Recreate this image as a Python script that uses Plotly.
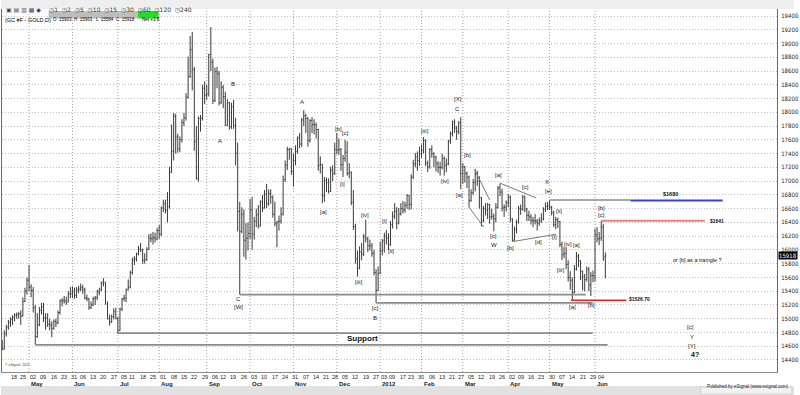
import pandas as pd
import plotly.graph_objects as go

# ---------------- data ----------------
FIRST_DAY, LAST_DAY, ANCHOR_DAY = "2011-04-12", "2012-06-08", "2011-05-02"
HOLIDAYS = ["2011-04-22", "2011-05-30", "2011-07-04", "2011-09-05", "2011-11-24", "2011-12-26",
            "2012-01-02", "2012-01-16", "2012-02-20", "2012-04-06", "2012-05-28"]

OPEN = [
    # Apr 2011
    14600, 14560, 14780, 14880, 14950, 14990, 15020, 15050, 15060, 15070, 15040, 15250, 15400,
    # May
    15560, 15460, 15410, 15160, 14740, 14910, 15120, 15170, 15010, 15010, 14920, 14910, 14860, 14960, 14940, 15090, 15260, 15260, 15260, 15240, 15360,
    # Jun
    15360, 15400, 15340, 15420, 15430, 15450, 15420, 15300, 15290, 15160, 15200, 15290, 15310, 15390, 15420, 15520, 15530, 15210, 15000, 14950, 15030, 15100,
    # Jul
    15000, 14830, 15140, 15290, 15300, 15420, 15460, 15670, 15850, 15870, 15940, 16010, 16000, 15850, 15860, 16010, 16170, 16160, 16180, 16160,
    # Aug
    16280, 16230, 16610, 16670, 16580, 16630, 17130, 17430, 17940, 17640, 17470, 17600, 17850, 17920, 18220, 18520, 18910, 18620, 17570, 17040, 17910, 17910, 18350,
    # Sep
    18250, 18270, 18840, 18730, 18170, 18590, 18560, 18140, 18360, 18230, 17810, 18140, 17790, 18080, 17810, 17410, 16560, 16270, 16520, 16140, 16170,
    # Oct
    16240, 16580, 16230, 16420, 16510, 16350, 16700, 16610, 16810, 16670, 16820, 16770, 16520, 16380, 16410, 16420, 16520, 17020, 17230, 17460, 17470,
    # Nov
    17140, 17300, 17430, 17630, 17540, 17890, 17950, 17910, 17590, 17880, 17820, 17820, 17750, 17230, 17240, 16790, 17010, 16980, 16850, 17160, 17110,
    # Dec
    17460, 17450, 17460, 17240, 17330, 17420, 17110, 17130, 16690, 16340, 15870, 15730, 15970, 15940, 16190, 16160, 16060, 16060, 15950, 15670, 15410,
    # Jan 2012
    15660, 15990, 16130, 16200, 16170, 16080, 16370, 16490, 16560, 16390, 16520, 16600, 16580, 16650, 16790, 16660, 17060, 17250, 17350, 17300,
    # Feb
    17400, 17450, 17590, 17260, 17210, 17460, 17400, 17350, 17250, 17200, 17200, 17330, 17230, 17250, 17580, 17690, 17860, 17770, 17720, 17850,
    # Mar
    17110, 17210, 17110, 17060, 16720, 16830, 16980, 17110, 17000, 16760, 16430, 16600, 16580, 16660, 16480, 16490, 16450, 16620, 16900, 16840, 16610, 16620,
    # Apr
    16690, 16770, 16450, 16140, 16300, 16400, 16600, 16590, 16770, 16590, 16500, 16480, 16430, 16420, 16420, 16390, 16420, 16450, 16590, 16630,
    # May
    16640, 16620, 16540, 16370, 16440, 16410, 16080, 15930, 15950, 15790, 15600, 15560, 15380, 15720, 15910, 15840, 15690, 15610, 15570, 15720, 15490, 15630,
    # Jun
    15620, 16220, 16160, 16170, 16330, 15903,
]
HIGH = [
    14690, 14830, 14910, 14980, 15020, 15050, 15080, 15090, 15100, 15120, 15310, 15450, 15600,
    15780, 15500, 15460, 15200, 15080, 15170, 15230, 15230, 15080, 15080, 15000, 14960, 14990, 15000, 15120, 15280, 15300, 15330, 15320, 15400, 15460,
    15470, 15450, 15460, 15480, 15510, 15490, 15450, 15350, 15300, 15250, 15320, 15330, 15420, 15450, 15540, 15590, 15530, 15250, 15060, 15060, 15150, 15160,
    15030, 15160, 15300, 15350, 15440, 15570, 15700, 15890, 15910, 15960, 16060, 16100, 16020, 15950, 16040, 16230, 16240, 16260, 16250, 16320,
    16360, 16630, 16730, 16730, 16840, 17210, 17820, 17990, 17980, 17690, 17650, 17900, 17990, 18280, 18810, 19110, 19170, 18660, 17800, 17940, 17960, 18400, 18450,
    18400, 18850, 19240, 18780, 18650, 18660, 18600, 18450, 18400, 18300, 18190, 18150, 18140, 18180, 17920, 17560, 16700, 16620, 16590, 16390, 16400,
    16740, 16770, 16480, 16600, 16650, 16720, 16800, 16870, 16960, 16880, 16880, 16790, 16700, 16420, 16500, 16620, 17080, 17300, 17500, 17480, 17480,
    17400, 17520, 17650, 17700, 17920, 18030, 17980, 17930, 17900, 17930, 17900, 17850, 17760, 17360, 17250, 17060, 17050, 17040, 17210, 17230, 17560,
    17700, 17620, 17480, 17380, 17600, 17580, 17260, 17140, 16870, 16380, 15990, 16050, 16100, 16230, 16440, 16190, 16150, 16100, 16000, 15720, 15760,
    16120, 16160, 16250, 16290, 16240, 16420, 16560, 16680, 16620, 16610, 16680, 16710, 16700, 16810, 16800, 17100, 17310, 17410, 17430, 17500,
    17530, 17640, 17610, 17300, 17480, 17520, 17420, 17370, 17290, 17280, 17400, 17360, 17330, 17600, 17720, 17880, 17900, 17800, 17870, 17930,
    17260, 17220, 17140, 17080, 16880, 17030, 17180, 17150, 17070, 16770, 16640, 16680, 16680, 16670, 16600, 16530, 16680, 16930, 16960, 16890, 16660, 16720,
    16810, 16790, 16460, 16340, 16440, 16640, 16660, 16800, 16790, 16610, 16570, 16520, 16480, 16520, 16450, 16470, 16530, 16620, 16690, 16700,
    16720, 16640, 16570, 16480, 16470, 16420, 16120, 16040, 16040, 15850, 15690, 15600, 15780, 15970, 15940, 15850, 15700, 15650, 15760, 15750, 15680, 15700,
    16310, 16330, 16260, 16424, 16380, 15963,
]
LOW = [
    14540, 14550, 14740, 14840, 14880, 14910, 14960, 15000, 15000, 14910, 15030, 15240, 15350,
    15400, 15310, 15090, 14620, 14720, 14890, 15060, 14950, 14840, 14880, 14830, 14730, 14840, 14880, 14920, 15060, 15180, 15220, 15200, 15240, 15300,
    15300, 15290, 15300, 15370, 15400, 15360, 15280, 15250, 15130, 15140, 15180, 15200, 15270, 15340, 15400, 15470, 15210, 14990, 14900, 14940, 14990, 14990,
    14780, 14820, 15110, 15250, 15240, 15410, 15440, 15640, 15780, 15830, 15920, 15970, 15800, 15800, 15840, 16000, 16110, 16080, 16110, 16140,
    16160, 16200, 16550, 16530, 16400, 16600, 17120, 17300, 17400, 17410, 17420, 17560, 17800, 17880, 18200, 18500, 18320, 17440, 17020, 16990, 17720, 17880, 18120,
    18180, 18230, 18600, 18120, 18150, 18350, 18100, 18120, 18060, 17800, 17800, 17750, 17760, 17760, 17230, 16270, 15350, 16240, 15900, 15860, 15990,
    16160, 16000, 16150, 16330, 16310, 16340, 16550, 16600, 16610, 16640, 16670, 16470, 16340, 16040, 16280, 16380, 16500, 16990, 17160, 17310, 17090,
    16920, 17230, 17400, 17480, 17500, 17800, 17700, 17500, 17560, 17700, 17680, 17620, 17150, 17110, 16680, 16700, 16840, 16820, 16840, 17000, 17090,
    17390, 17380, 17150, 17060, 17280, 17080, 17040, 16650, 16290, 15800, 15610, 15720, 15850, 15910, 16110, 15970, 15990, 15900, 15630, 15230, 15400,
    15650, 15920, 15960, 16080, 16000, 16060, 16310, 16450, 16300, 16370, 16500, 16530, 16540, 16600, 16580, 16590, 17030, 17200, 17150, 17220,
    17340, 17400, 17220, 17130, 17180, 17340, 17200, 17140, 17120, 17080, 17170, 17080, 17130, 17230, 17540, 17650, 17700, 17600, 17680, 16880,
    16960, 16980, 16900, 16620, 16700, 16800, 16850, 16930, 16600, 16340, 16400, 16500, 16450, 16380, 16440, 16270, 16400, 16600, 16780, 16560, 16480, 16560,
    16620, 16400, 16120, 16130, 16240, 16380, 16510, 16570, 16550, 16420, 16420, 16370, 16330, 16370, 16280, 16350, 16390, 16430, 16550, 16580,
    16580, 16500, 16330, 16300, 16320, 16040, 15850, 15880, 15720, 15540, 15420, 15267, 15370, 15700, 15750, 15560, 15410, 15400, 15540, 15400, 15330, 15530,
    15540, 16110, 16070, 16130, 15840, 15584,
]
CLOSE = [
    14560, 14780, 14880, 14950, 14990, 15020, 15050, 15060, 15070, 15040, 15250, 15400, 15560,
    15460, 15410, 15160, 14740, 14910, 15120, 15170, 15010, 15010, 14920, 14910, 14860, 14960, 14940, 15090, 15260, 15260, 15260, 15240, 15360, 15360,
    15400, 15340, 15420, 15430, 15450, 15420, 15300, 15290, 15160, 15200, 15290, 15310, 15390, 15420, 15520, 15530, 15210, 15000, 14950, 15030, 15100, 15000,
    14830, 15140, 15290, 15300, 15420, 15460, 15670, 15850, 15870, 15940, 16010, 16000, 15850, 15860, 16010, 16170, 16160, 16180, 16160, 16280,
    16230, 16610, 16670, 16580, 16630, 17130, 17430, 17940, 17640, 17470, 17600, 17850, 17920, 18220, 18520, 18910, 18620, 17570, 17040, 17910, 17910, 18350, 18250,
    18270, 18840, 18730, 18170, 18590, 18560, 18140, 18360, 18230, 17810, 18140, 17790, 18080, 17810, 17410, 16560, 16270, 16520, 16140, 16170, 16240,
    16580, 16230, 16420, 16510, 16350, 16700, 16610, 16810, 16670, 16820, 16770, 16520, 16380, 16410, 16420, 16520, 17020, 17230, 17460, 17470, 17140,
    17300, 17430, 17630, 17540, 17890, 17950, 17910, 17590, 17880, 17820, 17820, 17750, 17230, 17240, 16790, 17010, 16980, 16850, 17160, 17110, 17460,
    17450, 17460, 17240, 17330, 17420, 17110, 17130, 16690, 16340, 15870, 15730, 15970, 15940, 16190, 16160, 16060, 16060, 15950, 15670, 15410, 15660,
    15990, 16130, 16200, 16170, 16080, 16370, 16490, 16560, 16390, 16520, 16600, 16580, 16650, 16790, 16660, 17060, 17250, 17350, 17300, 17400,
    17450, 17590, 17260, 17210, 17460, 17400, 17350, 17250, 17200, 17200, 17330, 17230, 17250, 17580, 17690, 17860, 17770, 17720, 17850, 17110,
    17210, 17110, 17060, 16720, 16830, 16980, 17110, 17000, 16760, 16430, 16600, 16580, 16660, 16480, 16490, 16450, 16620, 16900, 16840, 16610, 16620, 16690,
    16770, 16450, 16140, 16300, 16400, 16600, 16590, 16770, 16590, 16500, 16480, 16430, 16420, 16420, 16390, 16420, 16450, 16590, 16630, 16640,
    16620, 16540, 16370, 16440, 16410, 16080, 15930, 15950, 15790, 15600, 15560, 15380, 15720, 15910, 15840, 15690, 15610, 15570, 15720, 15490, 15630, 15620,
    16220, 16160, 16170, 16330, 15880, 15918,
]

PRICE_TICKS = list(range(14400, 19401, 200))

# horizontal levels drawn by the analyst: price, start bar, end bar
LEVEL_PRICE = [14620, 14790, 15350, 15230, 16725, 16718, 16424, 15267]
LEVEL_START = [3, 43, 102, 168, 252, 291.1, 277.0, 262.3]
LEVEL_END = [280.1, 272.9, 269.5, 272.9, 290.9, 335.8, 327.1, 289.2]

# trend lines: (bar, price) pairs
TREND_LINES = [
    [(215.8, 17162), (223.0, 16726)],
    [(212.9, 16624), (220.1, 16333)],
    [(227.8, 16973), (245.5, 16755)],
    [(234.0, 16120), (255.1, 16227)],
]

WAVE_LABELS = [
    (98.7, 18412, "B"), (92.5, 17583, "A"), (101.6, 15287, "C"), (101.6, 15175, "[W]"),
    (132.1, 18154, "A"), (149.6, 17753, "[b]"), (153.3, 17695, "[c]"), (142.4, 16556, "[a]"),
    (151.9, 16958, "[i]"), (159.6, 15538, "[iii]"), (162.4, 16508, "[iv]"),
    (167.7, 15151, "[c]"), (167.7, 15015, "B"),
    (172.0, 16420, "[i]"), (175.1, 15989, "[ii]"), (191.6, 17733, "[iii]"), (201.5, 17002, "[iv]"),
    (207.5, 18189, "[X]"), (207.5, 18048, "C"), (208.3, 16798, "[a]"), (212.4, 17380, "[b]"),
    (225.0, 16202, "[c]"), (225.0, 16072, "W"), (227.2, 17089, "[a]"), (233.1, 16023, "[b]"),
    (240.4, 16919, "[c]"), (246.4, 16120, "[d]"), (250.8, 16983, "X"), (251.4, 16861, "[e]"),
    (256.6, 16566, "[ii]"), (254.6, 16188, "[i]"), (257.5, 15708, "[iii]"), (260.9, 16086, "[iv]"),
    (265.2, 16071, "[a]"), (263.3, 15170, "[a]"), (272.3, 15200, "[b]"),
    (277.2, 16609, "[b]"), (277.2, 16508, "[c]"),
    (320.3, 14880, "[c]"), (320.8, 14734, "Y"), (320.8, 14603, "[Y]"),
]
NOTE_LABELS = [
    (322.3, 14473, "<b>4?</b>", 7),
    (161.6, 14705, "<b>Support</b>", 8),
    (323.7, 15853, "or [b] as a traingle ?", 5.5),
    (310.3, 16813, "<b>$1680</b>", 5.5),
    (332.9, 16420, "<b>$1641</b>", 5),
    (295.4, 15280, "<b>$1526.70</b>", 5),
]

# ---------------- figure ----------------
FONT = "Liberation Sans Narrow, DejaVu Sans Condensed, Liberation Sans, Arial, sans-serif"
FONT_REG = "Liberation Sans, Arial, sans-serif"
BAR = "#3a3a3a"

dates = [d for d in pd.bdate_range(FIRST_DAY, LAST_DAY) if d.strftime("%Y-%m-%d") not in HOLIDAYS]
keys = [d.strftime("%Y-%m-%d") for d in dates]
anchor = keys.index(ANCHOR_DAY)
X = [k - anchor for k in range(len(dates))]
assert len(X) == len(OPEN) == len(HIGH) == len(LOW) == len(CLOSE), (len(X), len(OPEN), len(HIGH), len(LOW), len(CLOSE))

L_PX, R_PX, T_PX, B_PX = 1, 783, 9, 372
W_PX, H_PX = R_PX - L_PX, B_PX - T_PX


def px(x):
    return (x - L_PX) / W_PX


def py(y):
    return (B_PX - y) / H_PX


fig = go.Figure()
fig.add_trace(go.Ohlc(
    x=X, open=OPEN, high=HIGH, low=LOW, close=CLOSE,
    increasing=dict(line=dict(color=BAR, width=1)),
    decreasing=dict(line=dict(color=BAR, width=1)),
    tickwidth=0.4, hoverinfo="skip", showlegend=False,
))

level_styles = [
    dict(color="#8c8c8c", width=1.6), dict(color="#8c8c8c", width=1.6),
    dict(color="#8c8c8c", width=1.6), dict(color="#8c8c8c", width=1.6),
    dict(color="#8c8c8c", width=1.4), dict(color="#3344d6", width=2),
    dict(color="#f08080", width=2), dict(color="#e3261f", width=1.6),
]
for p, a, b, st in zip(LEVEL_PRICE, LEVEL_START, LEVEL_END, level_styles):
    fig.add_trace(go.Scatter(x=[a, b], y=[p, p], mode="lines", line=st,
                             hoverinfo="skip", showlegend=False))
for seg in TREND_LINES:
    fig.add_trace(go.Scatter(x=[s[0] for s in seg], y=[s[1] for s in seg], mode="lines",
                             line=dict(color="#7a7a7a", width=1), hoverinfo="skip", showlegend=False))

ann = []
for i, p, t in WAVE_LABELS:
    ann.append(dict(x=i, y=p, xref="x", yref="y", text=t, showarrow=False,
                    font=dict(size=6, color="#222", family=FONT_REG)))
for i, p, t, s in NOTE_LABELS:
    ann.append(dict(x=i, y=p, xref="x", yref="y", text=t, showarrow=False,
                    font=dict(size=s, color="#111", family=FONT_REG)))

# month grid lines and month labels
shapes = []
seen = set()
for k, d in enumerate(dates):
    mk = (d.year, d.month)
    if mk in seen:
        continue
    seen.add(mk)
    if X[k] < -10:
        continue
    shapes.append(dict(type="line", xref="x", yref="paper", x0=X[k], x1=X[k], y0=0, y1=1,
                       line=dict(color="#a0a0a0", width=1, dash="1px,2px"), layer="below"))
    label = "2012" if (d.year == 2012 and d.month == 1) else d.strftime("%b")
    ann.append(dict(x=X[k], y=0, xref="x", yref="paper", text="<b>" + label + "</b>",
                    showarrow=False, xanchor="left", yanchor="top", yshift=-7, xshift=0,
                    font=dict(size=6, color="#222", family=FONT_REG)))

# week labels
seen_w = set()
for k, d in enumerate(dates):
    wk = tuple(d.isocalendar()[:2])
    if wk in seen_w:
        continue
    seen_w.add(wk)
    if X[k] < -10:
        continue
    ann.append(dict(x=X[k], y=0, xref="x", yref="paper", text=d.strftime("%d"),
                    showarrow=False, xanchor="left", yanchor="top", yshift=0, xshift=-1,
                    font=dict(size=5.5, color="#222", family=FONT_REG)))

# last price box
ann.append(dict(x=1, y=CLOSE[-1], xref="paper", yref="y", text=str(CLOSE[-1]), showarrow=False,
                xanchor="left", xshift=1, bgcolor="#000", borderpad=0,
                font=dict(size=6, color="#fff", family=FONT)))

# toolbar strip and header
shapes.append(dict(type="rect", xref="paper", yref="paper", x0=px(0), x1=px(800), y0=py(0), y1=py(9),
                   fillcolor="#eeeeee", line=dict(width=0), layer="above"))
ann.append(dict(x=px(3), y=py(4.5), xref="paper", yref="paper", xanchor="left", showarrow=False,
                text="▣ ▤ ▥ ▦ ◆", font=dict(size=6, color="#445", family="DejaVu Sans")))
ann.append(dict(x=px(46), y=py(4.5), xref="paper", yref="paper", xanchor="left", showarrow=False,
                text="◷1  ◷2  ◷5  ◷10  ◷15  ◷30  ◷60  ◷120  ◷240",
                font=dict(size=6, color="#333", family="DejaVu Sans")))
shapes.append(dict(type="rect", xref="paper", yref="paper", x0=px(48), x1=px(138), y0=py(11), y1=py(18.5),
                   fillcolor="#bdbdbd", line=dict(width=0), layer="above"))
shapes.append(dict(type="rect", xref="paper", yref="paper", x0=px(138), x1=px(159), y0=py(11), y1=py(18.5),
                   fillcolor="#22dd22", line=dict(width=0), layer="above"))
ann.append(dict(x=px(2), y=py(14.8), xref="paper", yref="paper", xanchor="left", showarrow=False,
                text="(GC #F - GOLD,D)", font=dict(size=5.5, color="#000", family=FONT_REG)))
hdr = [(50, "O  %d" % OPEN[-1]), (72, "H  %d" % HIGH[-1]), (94, "L  %d" % LOW[-1]), (114, "C  %d" % CLOSE[-1]),
       (140, "Net +3.8")]
for x0, t in hdr:
    ann.append(dict(x=px(x0), y=py(14.8), xref="paper", yref="paper", xanchor="left", showarrow=False,
                    text=t, font=dict(size=4.5, color="#000", family=FONT_REG)))

# copyright and footer
ann.append(dict(x=px(2), y=py(369), xref="paper", yref="paper", xanchor="left", showarrow=False,
                text="© eSignal, 2011", font=dict(size=3.5, color="#444", family=FONT_REG)))
shapes.append(dict(type="rect", xref="paper", yref="paper", x0=px(0), x1=px(800), y0=py(386), y1=py(395),
                   fillcolor="#e2e2e2", line=dict(width=0), layer="above"))
shapes.append(dict(type="rect", xref="paper", yref="paper", x0=px(706), x1=px(798), y0=py(387), y1=py(394),
                   fillcolor="#f2f2f2", line=dict(color="#bbb", width=0.5), layer="above"))
ann.append(dict(x=px(797), y=py(390.5), xref="paper", yref="paper", xanchor="right", showarrow=False,
                text="Published by eSignal (www.esignal.com)", font=dict(size=4.5, color="#222", family=FONT_REG)))

fig.update_layout(
    width=800, height=395,
    margin=dict(l=L_PX, r=800 - R_PX, t=T_PX, b=395 - B_PX, pad=0),
    paper_bgcolor="#ffffff", plot_bgcolor="#ffffff",
    showlegend=False,
    xaxis=dict(range=[-13.1, 362.1], showgrid=False, showticklabels=False, ticks="", zeroline=False,
               showline=True, linecolor="#8a8a8a", linewidth=1, mirror=True,
               rangeslider=dict(visible=False), fixedrange=True),
    yaxis=dict(side="right", range=[14225, 19502], tickvals=PRICE_TICKS,
               ticktext=[str(v) for v in PRICE_TICKS], tickfont=dict(size=6, color="#222", family=FONT),
               showgrid=True, gridcolor="#c2c2c2", gridwidth=1, griddash="1px,2px",
               zeroline=False, showline=True, linecolor="#6a6a6a", linewidth=1, mirror=True,
               ticks="", ticklabelstandoff=2, fixedrange=True),
    annotations=ann,
    shapes=shapes,
)

fig.write_html("out.html")
